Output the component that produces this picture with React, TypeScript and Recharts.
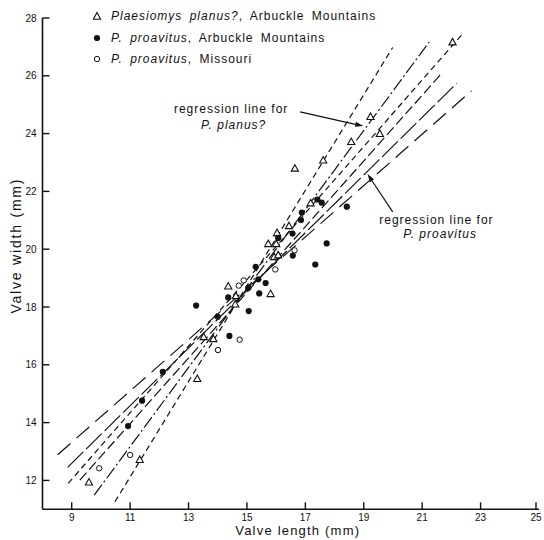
import React from "react";
import {
  ScatterChart,
  Scatter,
  XAxis,
  YAxis,
  ReferenceLine,
  ReferenceDot,
  Legend,
} from "recharts";

// Valve length (x, mm) vs valve width (y, mm)
const planusArbuckle = [
  { x: 9.59, y: 11.94 }, { x: 11.33, y: 12.72 }, { x: 13.3, y: 15.52 },
  { x: 13.52, y: 16.97 }, { x: 13.85, y: 16.9 }, { x: 14.6, y: 18.1 },
  { x: 14.62, y: 18.39 }, { x: 14.36, y: 18.72 }, { x: 15.81, y: 18.46 },
  { x: 15.73, y: 20.19 }, { x: 16.03, y: 20.57 }, { x: 16.0, y: 20.19 },
  { x: 15.93, y: 19.74 }, { x: 16.07, y: 19.8 }, { x: 16.44, y: 20.81 },
  { x: 17.18, y: 21.6 }, { x: 16.64, y: 22.8 }, { x: 17.61, y: 23.08 },
  { x: 18.57, y: 23.72 }, { x: 19.23, y: 24.59 }, { x: 19.55, y: 24.0 },
  { x: 22.04, y: 27.17 },
];

const proavitusArbuckle = [
  { x: 10.93, y: 13.88 }, { x: 11.41, y: 14.76 }, { x: 12.12, y: 15.76 },
  { x: 13.26, y: 18.05 }, { x: 14.0, y: 17.66 }, { x: 14.4, y: 17.0 },
  { x: 15.06, y: 17.86 }, { x: 14.36, y: 18.33 }, { x: 15.05, y: 18.67 },
  { x: 15.42, y: 18.47 }, { x: 15.39, y: 18.96 }, { x: 15.64, y: 18.83 },
  { x: 15.3, y: 19.39 }, { x: 17.34, y: 19.47 }, { x: 16.57, y: 19.78 },
  { x: 17.73, y: 20.2 }, { x: 16.07, y: 20.39 }, { x: 16.56, y: 20.54 },
  { x: 16.85, y: 21.01 }, { x: 16.88, y: 21.27 }, { x: 18.42, y: 21.47 },
  { x: 17.41, y: 21.72 }, { x: 17.56, y: 21.61 },
];

const proavitusMissouri = [
  { x: 9.94, y: 12.42 }, { x: 11.0, y: 12.88 }, { x: 14.01, y: 16.51 },
  { x: 14.75, y: 16.87 }, { x: 14.72, y: 18.74 }, { x: 14.89, y: 18.92 },
  { x: 15.97, y: 19.3 }, { x: 16.63, y: 19.96 },
];

// Regression lines and their limit lines (end points in mm)
const planusRegression = [{ x: 9.77, y: 11.49 }, { x: 21.24, y: 27.17 }];
const planusLimitLow = [{ x: 8.88, y: 11.9 }, { x: 22.35, y: 27.41 }];
const planusLimitHigh = [{ x: 10.48, y: 11.26 }, { x: 19.99, y: 26.98 }];
const proavitusRegression = [{ x: 8.86, y: 12.45 }, { x: 22.18, y: 25.74 }];
const proavitusLimitLow = [{ x: 8.52, y: 12.89 }, { x: 22.69, y: 25.48 }];
const proavitusLimitHigh = [{ x: 9.28, y: 12.01 }, { x: 21.61, y: 26.02 }];

const xTicks = [9, 11, 13, 15, 17, 19, 21, 23, 25];
const yTicks = [12, 14, 16, 18, 20, 22, 24, 26, 28];

const legendItems = [
  { symbol: "triangle", italic: "Plaesiomys planus?", rest: ", Arbuckle Mountains" },
  { symbol: "filled", italic: "P. proavitus", rest: ", Arbuckle Mountains" },
  { symbol: "open", italic: "P. proavitus", rest: ", Missouri" },
];

const annotations = [
  { x: 12.5, y: 24.85, text: "regression line for", italic: false },
  { x: 13.43, y: 24.29, text: "P. planus?", italic: true },
  { x: 19.53, y: 21.01, text: "regression line for", italic: false },
  { x: 20.35, y: 20.52, text: "P. proavitus", italic: true },
];

const arrows = [
  [{ x: 16.82, y: 24.75 }, { x: 18.98, y: 24.26 }],
  [{ x: 19.99, y: 21.29 }, { x: 19.13, y: 22.6 }],
];

const INK = "#111";
const FONT = "'Liberation Sans', Arial, Helvetica, sans-serif";

const TriangleMark = (p: any) => {
  const { cx, cy } = p;
  if (cx == null || cy == null) return <g />;
  const h = 3.6;
  return (
    <polygon
      points={`${cx},${cy - h} ${cx + 3.6},${cy + h * 0.8} ${cx - 3.6},${cy + h * 0.8}`}
      fill="#fff"
      stroke={INK}
      strokeWidth={1.1}
    />
  );
};

const FilledMark = (p: any) => {
  const { cx, cy } = p;
  if (cx == null || cy == null) return <g />;
  return <circle cx={cx} cy={cy} r={3.1} fill={INK} />;
};

const OpenMark = (p: any) => {
  const { cx, cy } = p;
  if (cx == null || cy == null) return <g />;
  return <circle cx={cx} cy={cy} r={2.7} fill="#fff" stroke={INK} strokeWidth={1} />;
};

const NoMark = () => <g />;

const ArrowShape = (p: any) => {
  const { x1, y1, x2, y2 } = p;
  const a = Math.atan2(y2 - y1, x2 - x1);
  const len = 8;
  const w = 2.6;
  const bx = x2 - len * Math.cos(a);
  const by = y2 - len * Math.sin(a);
  const nx = -Math.sin(a) * w;
  const ny = Math.cos(a) * w;
  return (
    <g>
      <line x1={x1} y1={y1} x2={bx} y2={by} stroke={INK} strokeWidth={1.2} />
      <polygon points={`${x2},${y2} ${bx + nx},${by + ny} ${bx - nx},${by - ny}`} fill={INK} />
    </g>
  );
};

const XTick = (p: any) => {
  const { x, y, payload } = p;
  return (
    <g>
      <line x1={x} y1={y} x2={x} y2={y - 7} stroke={INK} strokeWidth={1.4} />
      <text x={x} y={y + 11.5} textAnchor="middle" fontSize={10} fontFamily={FONT} fill={INK}>
        {payload.value}
      </text>
    </g>
  );
};

const YTick = (p: any) => {
  const { x, y, payload } = p;
  return (
    <g>
      <line x1={x} y1={y} x2={x + 7} y2={y} stroke={INK} strokeWidth={1.4} />
      <text x={x - 6} y={y + 3.6} textAnchor="end" fontSize={10} fontFamily={FONT} fill={INK}>
        {payload.value}
      </text>
    </g>
  );
};

const LegendSymbol = ({ kind }: { kind: string }) => (
  <svg width={10} height={10} style={{ display: "block" }}>
    {kind === "triangle" && (
      <polygon points="5,1.5 8.6,8.3 1.4,8.3" fill="#fff" stroke={INK} strokeWidth={1.1} />
    )}
    {kind === "filled" && <circle cx={5} cy={5} r={3.1} fill={INK} />}
    {kind === "open" && <circle cx={5} cy={5} r={2.7} fill="#fff" stroke={INK} strokeWidth={1} />}
  </svg>
);

const LegendBox = () => (
  <div style={{ fontFamily: FONT, fontSize: 12, letterSpacing: 1, color: INK }}>
    {legendItems.map((item, i) => (
      <div key={i} style={{ display: "flex", alignItems: "center", height: 21.5 }}>
        <LegendSymbol kind={item.symbol} />
        <span style={{ marginLeft: 9, whiteSpace: "nowrap", wordSpacing: 3 }}>
          <i>{item.italic}</i>
          {item.rest}
        </span>
      </div>
    ))}
  </div>
);

const lineStyle = (dash: string) => ({ stroke: INK, strokeWidth: 1.2, strokeDasharray: dash });

export default function App() {
  return (
    <div style={{ position: "absolute", left: 0, top: 0, background: "#fff" }}>
      <ScatterChart width={544} height={540} margin={{ top: 18, right: 5, bottom: 0, left: 0 }}>
        <XAxis
          type="number"
          dataKey="x"
          domain={[8, 25]}
          ticks={xTicks}
          allowDataOverflow
          height={30.7}
          tickSize={0}
          tickMargin={0}
          tickLine={false}
          axisLine={{ stroke: INK, strokeWidth: 1.6 }}
          tick={<XTick />}
          label={{
            value: "Valve length (mm)",
            content: (lp: any) => {
              const vb = lp.viewBox || { x: 42.5, width: 496.5 };
              return (
                <text
                  x={vb.x + vb.width / 2 + 7}
                  y={534.5}
                  textAnchor="middle"
                  fontSize={13}
                  letterSpacing={1.2}
                  fontFamily={FONT}
                  fill={INK}
                >
                  Valve length (mm)
                </text>
              );
            },
          }}
        />
        <YAxis
          type="number"
          dataKey="y"
          domain={[11, 28]}
          ticks={yTicks}
          allowDataOverflow
          width={42.5}
          tickSize={0}
          tickMargin={0}
          tickLine={false}
          axisLine={{ stroke: INK, strokeWidth: 1.6 }}
          tick={<YTick />}
          label={{
            value: "Valve width (mm)",
            content: (lp: any) => {
              const vb = lp.viewBox || { x: 0, y: 18, height: 491.3 };
              const cx = vb.x + 21;
              const cy = vb.y + vb.height / 2 - 18;
              return (
                <text
                  x={cx}
                  y={cy}
                  transform={`rotate(-90, ${cx}, ${cy})`}
                  textAnchor="middle"
                  fontSize={14}
                  letterSpacing={1.8}
                  fontFamily={FONT}
                  fill={INK}
                >
                  Valve width (mm)
                </text>
              );
            },
          }}
        />

        <Scatter data={planusLimitLow} line={lineStyle("6 4")} shape={NoMark} isAnimationActive={false} legendType="none" />
        <Scatter data={planusLimitHigh} line={lineStyle("6 4")} shape={NoMark} isAnimationActive={false} legendType="none" />
        <Scatter data={planusRegression} line={lineStyle("13 3 2 3")} shape={NoMark} isAnimationActive={false} legendType="none" />
        <Scatter data={proavitusRegression} line={lineStyle("22 4")} shape={NoMark} isAnimationActive={false} legendType="none" />
        <Scatter data={proavitusLimitLow} line={lineStyle("17 8")} shape={NoMark} isAnimationActive={false} legendType="none" />
        <Scatter data={proavitusLimitHigh} line={lineStyle("10 4")} shape={NoMark} isAnimationActive={false} legendType="none" />

        <Scatter data={proavitusMissouri} shape={OpenMark} isAnimationActive={false} legendType="none" />
        <Scatter data={planusArbuckle} shape={TriangleMark} isAnimationActive={false} legendType="none" />
        <Scatter data={proavitusArbuckle} shape={FilledMark} isAnimationActive={false} legendType="none" />

        {arrows.map((seg, i) => (
          <ReferenceLine key={`arrow-${i}`} segment={seg} shape={ArrowShape} ifOverflow="visible" />
        ))}

        {annotations.map((a, i) => (
          <ReferenceDot
            key={`note-${i}`}
            x={a.x}
            y={a.y}
            r={0}
            ifOverflow="visible"
            shape={(p: any) => (
              <text
                x={p.cx}
                y={p.cy + 4.2}
                fontSize={12}
                letterSpacing={1}
                fontStyle={a.italic ? "italic" : "normal"}
                fontFamily={FONT}
                fill={INK}
              >
                {a.text}
              </text>
            )}
          />
        ))}

        <Legend
          layout="vertical"
          align="center"
          verticalAlign="middle"
          content={() => <LegendBox />}
          wrapperStyle={{ top: 5.25, left: 92, width: 380 }}
        />
      </ScatterChart>
    </div>
  );
}
